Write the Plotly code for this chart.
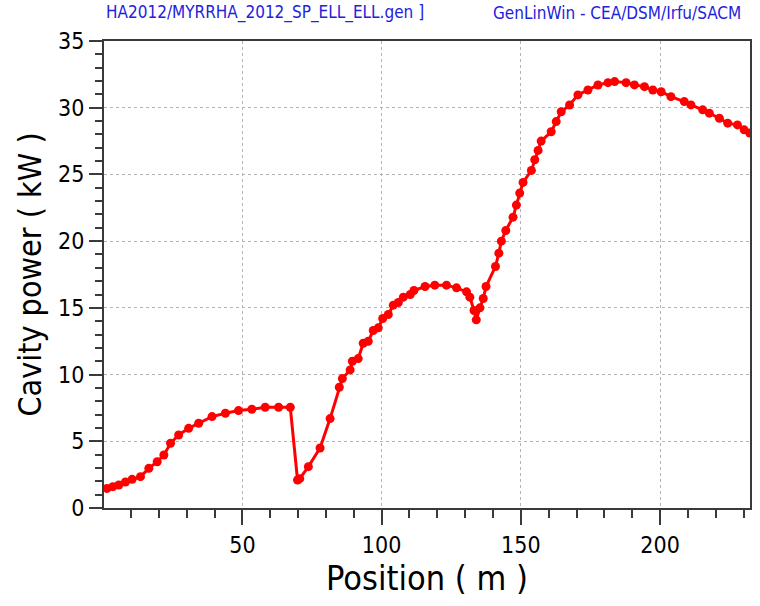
import plotly.graph_objects as go

position_m = [1.4, 3.5, 5.6, 8.0, 10.4, 13.4, 16.4, 19.4, 21.8, 24.2, 27.1, 30.7, 34.3, 39.1,
              43.9, 48.6, 53.4, 58.2, 63.0, 67.2, 69.8, 70.6, 73.7, 77.9, 81.5, 84.8, 85.9,
              88.7, 89.5, 91.6, 93.4, 95.2, 97.0, 98.8, 100.4, 102.4, 104.2, 106.0, 107.8,
              110.3, 111.6, 115.6, 119.1, 123.3, 126.9, 130.5, 131.7, 133.2, 134.0, 135.3,
              136.5, 137.5, 140.9, 142.1, 143.0, 144.6, 147.2, 148.4, 149.6, 150.8, 153.8,
              155.0, 156.2, 157.3, 160.9, 162.7, 164.5, 167.5, 170.5, 174.1, 177.7, 181.3,
              183.7, 187.8, 190.8, 194.4, 197.4, 200.4, 203.9, 208.7, 211.1, 215.3, 217.7,
              221.3, 224.3, 227.8, 230.2, 232.2]
cavity_power_kw = [1.47, 1.6, 1.72, 1.95, 2.15, 2.35, 2.97, 3.47, 3.97, 4.85, 5.47, 5.97, 6.35,
                   6.85, 7.1, 7.3, 7.4, 7.55, 7.55, 7.55, 2.1, 2.2, 3.1, 4.5, 6.7, 9.05, 9.7,
                   10.35, 11.0, 11.2, 12.35, 12.5, 13.3, 13.5, 14.2, 14.5, 15.2, 15.4, 15.8,
                   16.0, 16.3, 16.6, 16.7, 16.7, 16.5, 16.2, 15.8, 14.8, 14.1, 15.0, 15.7,
                   16.6, 18.1, 19.1, 20.0, 20.8, 21.8, 22.7, 23.6, 24.4, 25.3, 26.1, 26.8,
                   27.5, 28.2, 28.96, 29.7, 30.2, 30.96, 31.33, 31.7, 31.88, 31.96, 31.88,
                   31.71, 31.58, 31.33, 31.2, 30.83, 30.46, 30.21, 29.84, 29.59, 29.21, 28.84,
                   28.71, 28.34, 28.1]

x_ticks = [50, 100, 150, 200]
y_ticks = [0, 5, 10, 15, 20, 25, 30, 35]

FONT = "DejaVu Sans Condensed, DejaVu Sans, sans-serif"
AXC = "#3a3a3a"
GRID = "#b4b4b4"

fig = go.Figure()
fig.add_trace(go.Scatter(
    x=position_m, y=cavity_power_kw, mode="lines+markers",
    line=dict(color="#ff0000", width=3),
    marker=dict(color="#ff0000", size=9, symbol="circle"),
    showlegend=False,
))

fig.update_layout(
    width=760, height=606,
    margin=dict(l=104, r=8, t=41, b=98),
    paper_bgcolor="white", plot_bgcolor="white",
    font=dict(family=FONT, color="black"),
    xaxis=dict(
        range=[0.3, 232.3], tickvals=x_ticks, ticks="outside", ticklen=15, tickwidth=2,
        tickcolor=AXC, showline=True, linecolor=AXC, linewidth=2, mirror=True,
        showgrid=True, gridcolor=GRID, griddash="dot", gridwidth=1,
        zeroline=False, tickfont=dict(size=23, family=FONT),
        minor=dict(dtick=10, tick0=0, ticks="outside", ticklen=8, tickwidth=2,
                   tickcolor=AXC, showgrid=False),
        title=dict(text="Position ( m )", font=dict(size=34, family=FONT), standoff=6),
    ),
    yaxis=dict(
        range=[0, 35], tickvals=y_ticks, ticks="outside", ticklen=13, tickwidth=2,
        tickcolor=AXC, showline=True, linecolor=AXC, linewidth=2, mirror=True,
        showgrid=True, gridcolor=GRID, griddash="dot", gridwidth=1,
        zeroline=False, tickfont=dict(size=23, family=FONT),
        minor=dict(dtick=1, tick0=0, ticks="outside", ticklen=7, tickwidth=2,
                   tickcolor=AXC, showgrid=False),
        title=dict(text="Cavity power ( kW )", font=dict(size=32, family=FONT), standoff=7),
    ),
    annotations=[
        dict(text="HA2012/MYRRHA_2012_SP_ELL_ELL.gen ]", xref="paper", yref="paper",
             x=0.0, y=1.060, xanchor="left", yanchor="middle", showarrow=False,
             font=dict(size=17, color="#2222dd", family=FONT)),
        dict(text="GenLinWin - CEA/DSM/Irfu/SACM", xref="paper", yref="paper",
             x=0.989, y=1.060, xanchor="right", yanchor="middle", showarrow=False,
             font=dict(size=17, color="#2222dd", family=FONT)),
    ],
)

fig.write_html("out.html")
